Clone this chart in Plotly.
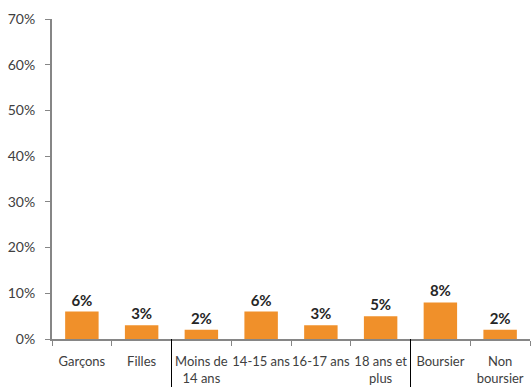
import plotly.graph_objects as go

categories = ["Garçons", "Filles", "Moins de<br>14 ans", "14-15 ans", "16-17 ans",
              "18 ans et<br>plus", "Boursier", "Non<br>boursier"]
values = [6, 3, 2, 6, 3, 5, 8, 2]
y_ticks = [0, 10, 20, 30, 40, 50, 60, 70]
y_ticklabels = [f"{v}%" for v in y_ticks]
group_separators = [1.5, 5.5]

fig = go.Figure()
fig.add_trace(go.Bar(
    x=categories, y=values,
    marker=dict(color="#F0902A", line=dict(width=0)),
    text=[f"{v}%" for v in values],
    textposition="outside",
    textfont=dict(family="Lato", size=15, color="#262626", weight="bold"),
    cliponaxis=False,
))

for s in group_separators:
    fig.add_shape(type="line", xref="x", yref="paper", x0=s, x1=s, y0=0, y1=-0.16,
                  line=dict(color="#000000", width=1))

fig.update_layout(
    width=532, height=387,
    margin=dict(l=52, r=2, t=19, b=48, autoexpand=False),
    plot_bgcolor="white", paper_bgcolor="white",
    bargap=0.44,
    showlegend=False,
    font=dict(family="Lato", size=13, color="#404040"),
)
fig.update_xaxes(
    type="category", tickson="boundaries", ticks="outside", ticklen=5,
    tickcolor="#868686", showline=True, linecolor="#868686", linewidth=2,
    showgrid=False, tickfont=dict(family="Lato", size=13, color="#404040"),
    tickangle=0, automargin=False, ticklabelstandoff=9,
)
fig.update_yaxes(
    range=[0, 70], tickvals=y_ticks, ticktext=y_ticklabels,
    ticks="outside", ticklen=5, tickcolor="#868686",
    showline=True, linecolor="#868686", linewidth=2, showgrid=False,
    zeroline=False, tickfont=dict(family="Lato", size=14, color="#404040"),
    ticklabelstandoff=7, automargin=False,
)

fig.write_html("out.html")
